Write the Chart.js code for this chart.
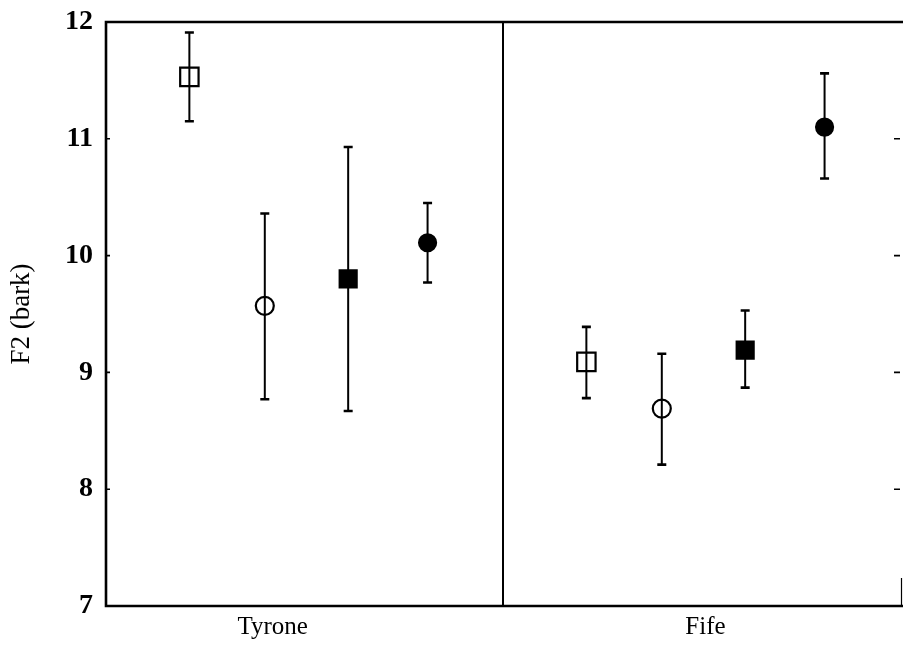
<!DOCTYPE html>
<html>
<head>
<meta charset="utf-8">
<script src="https://cdn.jsdelivr.net/npm/chart.js@4"></script>
<style>
  html, body { margin: 0; padding: 0; background: #ffffff; }
  #wrap { width: 903px; height: 648px; position: relative; }
</style>
</head>
<body>
<div id="wrap"><canvas id="c" width="903" height="648"></canvas></div>
<script>
// ---- data ----
const categories = ['Tyrone', 'Fife'];
const seriesNames = ['open square', 'open circle', 'filled square', 'filled circle'];
const meanOpenSquare   = [11.53, 9.09];
const meanOpenCircle   = [9.57, 8.69];
const meanFilledSquare = [9.80, 9.19];
const meanFilledCircle = [10.11, 11.10];
const upperOpenSquare   = [11.91, 9.39];
const upperOpenCircle   = [10.36, 9.16];
const upperFilledSquare = [10.93, 9.53];
const upperFilledCircle = [10.45, 11.56];
const lowerOpenSquare   = [11.15, 8.78];
const lowerOpenCircle   = [8.77, 8.21];
const lowerFilledSquare = [8.67, 8.87];
const lowerFilledCircle = [9.77, 10.66];
const yTicks = [7, 8, 9, 10, 11, 12];

// ---- layout helpers (not data) ----
const seriesOffset = [0.21, 0.40, 0.61, 0.81];
const labelOffset = [0.42, 0.51];
const styles = [
  { pointStyle: 'rect',   radius: 13, fill: 'rgba(0,0,0,0)' },
  { pointStyle: 'circle', radius: 9,  fill: 'rgba(0,0,0,0)' },
  { pointStyle: 'rect',   radius: 12, fill: '#000' },
  { pointStyle: 'circle', radius: 8.5, fill: '#000' }
];
const means = [meanOpenSquare, meanOpenCircle, meanFilledSquare, meanFilledCircle];
const uppers = [upperOpenSquare, upperOpenCircle, upperFilledSquare, upperFilledCircle];
const lowers = [lowerOpenSquare, lowerOpenCircle, lowerFilledSquare, lowerFilledCircle];

const datasets = seriesNames.map((name, s) => ({
  label: name,
  data: categories.map((c, g) => ({ x: g + seriesOffset[s], y: means[s][g], hi: uppers[s][g], lo: lowers[s][g] })),
  pointStyle: styles[s].pointStyle,
  pointRadius: styles[s].radius,
  pointHoverRadius: styles[s].radius,
  pointBackgroundColor: styles[s].fill,
  pointBorderColor: '#000',
  pointBorderWidth: 2.2,
  showLine: false
}));

const INK = '#000';

const errorBars = {
  id: 'errorBars',
  beforeDatasetsDraw(chart) {
    const ctx = chart.ctx, xs = chart.scales.x, ys = chart.scales.y;
    ctx.save();
    ctx.strokeStyle = INK;
    chart.data.datasets.forEach(ds => {
      ds.data.forEach(p => {
        const px = xs.getPixelForValue(p.x);
        const top = ys.getPixelForValue(p.hi), bot = ys.getPixelForValue(p.lo);
        ctx.lineWidth = 2;
        ctx.beginPath(); ctx.moveTo(px, top); ctx.lineTo(px, bot); ctx.stroke();
        ctx.lineWidth = 2.6;
        ctx.beginPath();
        ctx.moveTo(px - 4.5, top); ctx.lineTo(px + 4.5, top);
        ctx.moveTo(px - 4.5, bot); ctx.lineTo(px + 4.5, bot);
        ctx.stroke();
      });
    });
    ctx.restore();
  }
};

const frame = {
  id: 'frame',
  beforeDatasetsDraw(chart) {
    const ctx = chart.ctx, a = chart.chartArea, xs = chart.scales.x, ys = chart.scales.y;
    ctx.save();
    ctx.strokeStyle = INK;
    ctx.lineWidth = 2.6;
    ctx.beginPath();
    ctx.moveTo(chart.width, a.top); ctx.lineTo(a.left, a.top);
    ctx.lineTo(a.left, a.bottom); ctx.lineTo(chart.width, a.bottom);
    ctx.stroke();
    // divider between groups
    const dx = xs.getPixelForValue(1);
    ctx.lineWidth = 2;
    ctx.beginPath(); ctx.moveTo(dx, a.top); ctx.lineTo(dx, a.bottom); ctx.stroke();
    // small inward ticks on both sides
    ctx.lineWidth = 1.6;
    yTicks.forEach(v => {
      if (v === 7 || v === 12) return;
      const py = ys.getPixelForValue(v);
      ctx.beginPath();
      ctx.moveTo(a.left, py); ctx.lineTo(a.left + 4, py);
      ctx.moveTo(a.right, py); ctx.lineTo(a.right - 6, py);
      ctx.stroke();
    });
    // bit of right border near bottom
    ctx.lineWidth = 1.2;
    ctx.beginPath(); ctx.moveTo(a.right + 1.5, a.bottom - 28); ctx.lineTo(a.right + 1.5, a.bottom); ctx.stroke();
    ctx.restore();
  }
};

new Chart(document.getElementById('c'), {
  type: 'scatter',
  data: { datasets },
  options: {
    responsive: false,
    animation: false,
    devicePixelRatio: 1,
    layout: { autoPadding: false, padding: { top: 22, right: 3, left: 0, bottom: 0 } },
    plugins: { legend: { display: false }, tooltip: { enabled: false } },
    scales: {
      x: {
        type: 'linear', min: 0, max: 2,
        grid: { display: false, drawTicks: false },
        border: { display: false },
        afterBuildTicks(scale) {
          scale.ticks = categories.map((c, g) => ({ value: g + labelOffset[g] }));
        },
        afterFit(scale) {
          scale.height = 42;
          scale.paddingLeft = 0; scale.paddingRight = 0;
        },
        ticks: {
          padding: 6,
          color: INK,
          maxRotation: 0,
          autoSkip: false,
          font: { family: '"Liberation Serif", "Times New Roman", serif', size: 25 },
          callback(value, index) { return categories[index]; }
        }
      },
      y: {
        min: 7, max: 12,
        grid: { display: false, drawTicks: false },
        border: { display: false },
        afterBuildTicks(scale) { scale.ticks = yTicks.map(v => ({ value: v })); },
        afterFit(scale) {
          scale.width = 106;
          scale.paddingTop = 0; scale.paddingBottom = 0;
        },
        title: {
          display: true,
          text: 'F2 (bark)',
          color: INK,
          padding: { top: 6, bottom: 0 },
          font: { family: '"Liberation Serif", "Times New Roman", serif', size: 27 }
        },
        ticks: {
          padding: 13,
          color: INK,
          font: { family: '"Liberation Serif", "Times New Roman", serif', size: 28, weight: 'bold' }
        }
      }
    }
  },
  plugins: [frame, errorBars]
});
</script>
</body>
</html>
